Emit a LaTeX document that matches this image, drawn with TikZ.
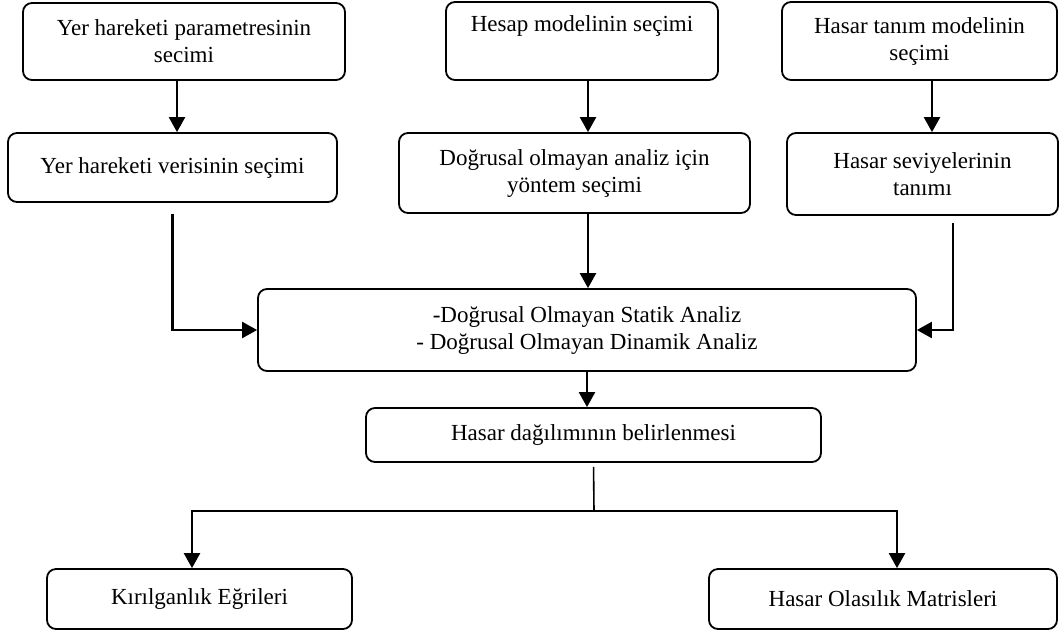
\documentclass[tikz,border=0pt]{standalone}
\usepackage{fontspec}
\setmainfont{Liberation Serif}
\usetikzlibrary{arrows.meta}

\begin{document}
\begin{tikzpicture}[x=1pt,y=-1pt,font=\fontsize{23}{27}\selectfont]
        \tikzstyle{box}=[draw=black,line width=1.8pt,rounded corners=9pt,align=center,inner sep=0pt]
        \tikzstyle{edge}=[draw,line width=2.4pt,-{Triangle[length=15pt,width=16pt]}]
        \tikzstyle{line}=[draw,line width=1.6pt]
        \useasboundingbox (0,0) rectangle (1059,633);
       \begin{scope}
         % ust sira
         \node [box,minimum width=322pt,minimum height=77pt] (param) at (184,41.5) {Yer hareketi parametresinin\\secimi};
         \node [box,minimum width=272pt,minimum height=78pt] (hesap) at (582,41) {Hesap modelinin seçimi\\\strut};
         \node [box,minimum width=275pt,minimum height=78pt] (tanim) at (919.5,41) {Hasar tanım modelinin\\seçimi};
         % ikinci sira
         \node [box,minimum width=329pt,minimum height=69pt] (veri) at (172.5,167.5) {Yer hareketi verisinin seçimi};
         \node [box,minimum width=351pt,minimum height=80pt] (yontem) at (574.5,173) {Doğrusal olmayan analiz için\\yöntem seçimi};
         \node [box,minimum width=271pt,minimum height=82pt] (seviye) at (922.5,174) {Hasar seviyelerinin\\tanımı};
         % analiz ve sonuclar
         \node [box,minimum width=658pt,minimum height=82pt] (analiz) at (587,330) {-Doğrusal Olmayan Statik Analiz\\- Doğrusal Olmayan Dinamik Analiz};
         \node [box,minimum width=455pt,minimum height=54pt] (dagilim) at (593.5,435) {Hasar dağılımının belirlenmesi};
         \node [box,minimum width=305pt,minimum height=60pt] (kirilgan) at (199.5,599) {Kırılganlık Eğrileri};
         \node [box,minimum width=348pt,minimum height=60pt] (olasilik) at (883,599) {Hasar Olasılık Matrisleri};
         \coordinate (split) at (594,511);
         % baglantilar
         \path[edge] ([xshift=-7pt]param.south) -- ([xshift=-7pt]param.south |- veri.north);
         \path[edge] ([xshift=6pt]hesap.south) -- ([xshift=6pt]hesap.south |- yontem.north);
         \path[edge] ([xshift=12.5pt]tanim.south) -- ([xshift=12.5pt]tanim.south |- seviye.north);
         \path[edge,shorten <=11pt] (veri.south) |- (analiz.west);
         \path[edge] ([xshift=13.5pt]yontem.south) -- ([xshift=13.5pt]yontem.south |- analiz.north);
         \path[edge,shorten <=7pt] ([xshift=30.5pt]seviye.south) |- (analiz.east);
         \path[edge] (analiz.south) -- (analiz.south |- dagilim.north);
         \path[line,shorten <=4pt] (dagilim.south) -- (split);
         \path[edge] (split) -| ([xshift=-7.5pt]kirilgan.north);
         \path[edge] (split) -| ([xshift=14pt]olasilik.north);
        \end{scope}
      \end{tikzpicture}
\end{document}
